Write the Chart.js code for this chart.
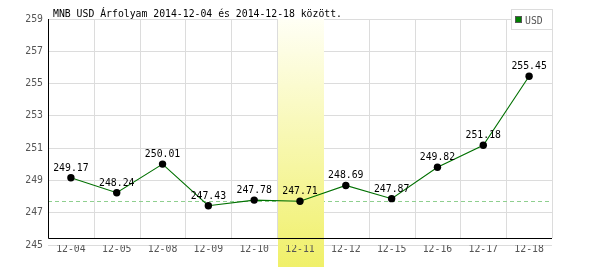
<!DOCTYPE html>
<html lang="hu">
<head>
<meta charset="utf-8">
<title>MNB USD Árfolyam</title>
<script src="https://cdn.jsdelivr.net/npm/chart.js@4"></script>
<style>
  body { margin: 0; background: #fff; }
  canvas { display: block; }
</style>
</head>
<body>
<canvas id="chart" width="600" height="270"></canvas>
<script>
// ---- data ----
const TITLE = 'MNB USD Árfolyam 2014-12-04 és 2014-12-18 között.';
const SERIES_NAME = 'USD';
const DATES = ['12-04', '12-05', '12-08', '12-09', '12-10', '12-11', '12-12', '12-15', '12-16', '12-17', '12-18'];
const RATES = [249.17, 248.24, 250.01, 247.43, 247.78, 247.71, 248.69, 247.87, 249.82, 251.18, 255.45];
const Y_TICKS = [245, 247, 249, 251, 253, 255, 257, 259];
const HIGHLIGHT_INDEX = 5;     // 12-11
const REF_VALUE = 247.71;      // dashed reference line

const FONT = '9.8px "DejaVu Sans Mono", monospace';

// custom drawing: band, reference line, axis lines, value labels, title, legend
const decor = {
  id: 'decor',
  beforeDatasetsDraw(chart) {
    const { ctx, chartArea: a, scales: { x, y } } = chart;
    const half = (x.getPixelForValue(1) - x.getPixelForValue(0)) / 2;
    const axisY = a.bottom - 7;
    ctx.save();

    // vertical grid lines (between categories), stop at the x axis line
    ctx.strokeStyle = '#dcdcdc';
    ctx.lineWidth = 1;
    for (let i = 0; i < DATES.length; i++) {
      const px = Math.round(x.getPixelForValue(i) + half) + 0.5;
      ctx.beginPath();
      ctx.moveTo(px, a.top);
      ctx.lineTo(px, axisY);
      ctx.stroke();
    }

    // dashed reference line
    const ry = Math.round(y.getPixelForValue(REF_VALUE)) + 0.5;
    ctx.strokeStyle = '#8fcf8f';
    ctx.setLineDash([4, 3]);
    ctx.beginPath();
    ctx.moveTo(a.left, ry);
    ctx.lineTo(a.right, ry);
    ctx.stroke();
    ctx.setLineDash([]);

    // highlighted day band
    const bx = x.getPixelForValue(HIGHLIGHT_INDEX) - half;
    const grad = ctx.createLinearGradient(0, a.top, 0, chart.height - 3);
    grad.addColorStop(0, 'rgb(255,255,245)');
    grad.addColorStop(1, 'rgb(240,240,105)');
    ctx.fillStyle = grad;
    ctx.fillRect(Math.round(bx) + 1, a.top, Math.round(half * 2), chart.height - 3 - a.top);

    // axis lines
    ctx.strokeStyle = '#000';
    ctx.beginPath();
    ctx.moveTo(a.left + 0.5, a.top);
    ctx.lineTo(a.left + 0.5, axisY + 0.5);
    ctx.lineTo(a.right, axisY + 0.5);
    ctx.stroke();
    ctx.restore();
  },
  afterDatasetsDraw(chart) {
    const { ctx } = chart;
    const meta = chart.getDatasetMeta(0);
    ctx.save();
    ctx.font = FONT;
    ctx.fillStyle = '#000';
    ctx.textAlign = 'center';
    ctx.textBaseline = 'alphabetic';
    meta.data.forEach((pt, i) => {
      ctx.fillText(RATES[i].toFixed(2), pt.x, pt.y - 7);
    });
    ctx.restore();
  },
  afterDraw(chart) {
    const { ctx } = chart;
    ctx.save();
    ctx.font = FONT;
    ctx.fillStyle = '#000';
    ctx.textAlign = 'left';
    ctx.textBaseline = 'alphabetic';
    ctx.fillText(TITLE, 53, 17);

    // legend box
    ctx.fillStyle = '#fff';
    ctx.fillRect(511, 9, 41, 20);
    ctx.strokeStyle = '#dcdcdc';
    ctx.strokeRect(511.5, 9.5, 41, 20);
    ctx.fillStyle = '#008000';
    ctx.fillRect(515, 16, 7, 7);
    ctx.strokeStyle = '#555';
    ctx.strokeRect(515.5, 16.5, 6, 6);
    ctx.fillStyle = '#555';
    ctx.fillText(SERIES_NAME, 525, 24);
    ctx.restore();
  }
};

new Chart(document.getElementById('chart'), {
  type: 'line',
  data: {
    labels: DATES,
    datasets: [{
      label: SERIES_NAME,
      data: RATES,
      borderColor: '#007000',
      borderWidth: 1.1,
      tension: 0,
      pointRadius: 3.7,
      pointBackgroundColor: '#000',
      pointBorderWidth: 0,
      pointHoverRadius: 3.7
    }]
  },
  options: {
    responsive: false,
    animation: false,
    events: [],
    layout: { padding: { top: 19, right: 48, left: 0, bottom: 0 } },
    plugins: { legend: { display: false }, title: { display: false }, tooltip: { enabled: false } },
    scales: {
      x: {
        offset: true,
        grid: { display: false, drawTicks: false },
        border: { display: false },
        ticks: { z: 1, color: '#555', font: { family: '"DejaVu Sans Mono", monospace', size: 9.8 },
                 padding: -1, maxRotation: 0, autoSkip: false },
        afterFit(s) { s.height = 25; }
      },
      y: {
        min: Y_TICKS[0],
        max: Y_TICKS[Y_TICKS.length - 1],
        afterBuildTicks(s) { s.ticks = Y_TICKS.map(v => ({ value: v })); },
        grid: { color: '#dcdcdc', drawTicks: false },
        border: { display: false },
        ticks: { color: '#555', font: { family: '"DejaVu Sans Mono", monospace', size: 9.8 }, padding: 5 },
        afterFit(s) { s.width = 48; }
      }
    }
  },
  plugins: [decor]
});
</script>
</body>
</html>
